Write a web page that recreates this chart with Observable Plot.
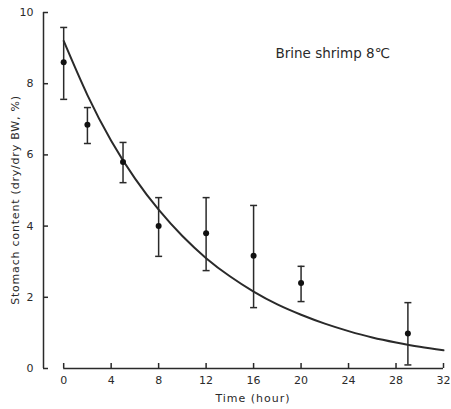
<!DOCTYPE html>
<html>
<head>
<meta charset="utf-8">
<script src="https://cdn.jsdelivr.net/npm/d3@7"></script>
<script src="https://cdn.jsdelivr.net/npm/@observablehq/plot@0.6"></script>
<style>
  html, body { margin: 0; padding: 0; background: #fff; }
  #chart { position: relative; width: 451px; height: 409px; }
</style>
</head>
<body>
<div id="chart"></div>
<script>
// Observed stomach content (mean ± range)
const times = [0, 2, 5, 8, 12, 16, 20, 29];
const means = [8.6, 6.85, 5.8, 4.0, 3.8, 3.17, 2.4, 0.98];
const upper = [9.58, 7.33, 6.35, 4.8, 4.8, 4.58, 2.87, 1.85];
const lower = [7.56, 6.32, 5.22, 3.15, 2.75, 1.71, 1.88, 0.1];

// Fitted curve
const curveT = [0, 2, 4, 6, 8, 10, 12, 14, 16, 18, 20, 22, 24, 26, 28, 30, 32];
const curveY = [9.2, 7.68, 6.4, 5.34, 4.46, 3.72, 3.1, 2.59, 2.16, 1.8, 1.51, 1.26, 1.05, 0.87, 0.73, 0.61, 0.51];

const xTicks = [0, 4, 8, 12, 16, 20, 24, 28, 32];
const yTicks = [0, 2, 4, 6, 8, 10];
const xTickLabels = ["0", "4", "8", "12", "16", "20", "24", "28", "32"];

const title = "Brine shrimp 8℃";
const xLabel = "Time (hour)";
const yLabel = "Stomach content (dry/dry BW, %)";

const obs = times.map((t, i) => ({t, m: means[i], hi: upper[i], lo: lower[i]}));
const curve = curveT.map((t, i) => ({t, y: curveY[i]}));

const xDomain = [-1.7, 32];
const ink = "#2a2a2a";
const font = "'DejaVu Sans', sans-serif";

const capSymbol = {
  draw(ctx, size) {
    const r = Math.sqrt(size / Math.PI);
    ctx.moveTo(-r, 0);
    ctx.lineTo(r, 0);
  }
};

const chart = Plot.plot({
  width: 451,
  height: 409,
  marginLeft: 43,
  marginRight: 8,
  marginTop: 12,
  marginBottom: 41,
  style: {fontFamily: font, fontSize: "11px", color: ink, background: "#fff"},
  x: {domain: xDomain},
  y: {domain: [0, 10]},
  marks: [
    Plot.ruleX([xDomain[0]], {y1: 0, y2: 10, stroke: ink, strokeWidth: 1.5}),
    Plot.ruleY([0], {x1: 0, x2: 32, stroke: ink, strokeWidth: 1.5}),
    Plot.axisY({ticks: yTicks, tickSize: -5, tickPadding: 15, stroke: ink, strokeWidth: 1.5, fill: ink, label: null, fontSize: 11}),
    Plot.axisX({ticks: xTicks, tickFormat: (d, i) => xTickLabels[i], tickSize: -5, tickPadding: 13, stroke: ink, strokeWidth: 1.5, fill: ink, label: null, fontSize: 11}),
    Plot.line(curve, {x: "t", y: "y", curve: "natural", stroke: ink, strokeWidth: 2}),
    Plot.ruleX(obs, {x: "t", y1: "lo", y2: "hi", stroke: ink, strokeWidth: 1.5}),
    Plot.dot(obs, {x: "t", y: "hi", symbol: capSymbol, r: 3.5, stroke: ink, strokeWidth: 1.5, fill: "none"}),
    Plot.dot(obs, {x: "t", y: "lo", symbol: capSymbol, r: 3.5, stroke: ink, strokeWidth: 1.5, fill: "none"}),
    Plot.dot(obs, {x: "t", y: "m", r: 3, fill: "#111", stroke: "none"}),
    Plot.text([title], {frameAnchor: "top-left", dx: 232, dy: 41, text: d => d, fontSize: 13.5, fill: ink, textAnchor: "start", lineAnchor: "middle"})
  ]
});

document.getElementById("chart").appendChild(chart);

// axis titles as real text in the SVG
const svg = d3.select(chart);
svg.append("text")
  .attr("x", 253).attr("y", 402)
  .attr("text-anchor", "middle")
  .attr("font-family", font).attr("font-size", 11).attr("letter-spacing", 1)
  .attr("fill", ink)
  .text(xLabel);
svg.append("text")
  .attr("transform", "translate(15,200) rotate(-90)")
  .attr("text-anchor", "middle")
  .attr("dominant-baseline", "central")
  .attr("font-family", font).attr("font-size", 11).attr("letter-spacing", 0.8)
  .attr("fill", ink)
  .text(yLabel);
</script>
</body>
</html>
